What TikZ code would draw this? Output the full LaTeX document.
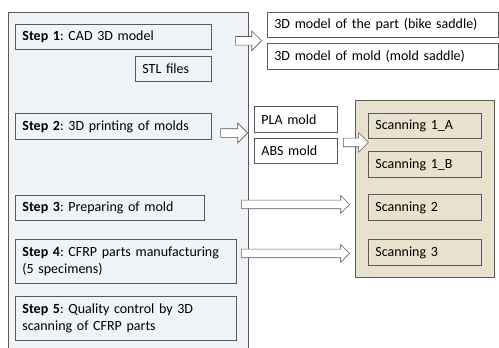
\documentclass[tikz,border=0pt]{standalone}
\usepackage{fontspec}
\setmainfont{Carlito}
\usetikzlibrary{positioning}
\usetikzlibrary{shapes.arrows}
\definecolor{paneblue}{RGB}{240,244,249}
\definecolor{tanfill}{RGB}{231,225,205}
\definecolor{edgegray}{RGB}{90,90,90}
\tikzset{
  box/.style={draw=edgegray, line width=0.8pt, inner xsep=7pt, inner ysep=0pt,
    align=left, anchor=north west, font=\fontsize{14}{17}\selectfont\frenchspacing},
  blockarrow/.style={single arrow, draw=edgegray, fill=white, line width=0.6pt,
    inner xsep=0pt, inner ysep=4pt, single arrow head extend=5.5pt,
    single arrow tip angle=90, anchor=tip}
}

\begin{document}
\begin{tikzpicture}[x=1pt,y=-1pt]
    \useasboundingbox (0,0) rectangle (499,348);

    % left panel with the steps
    \fill[paneblue] (8,12) rectangle (248,348);
    \draw[edgegray, line width=0.8pt] (8,348) -- (8,12) -- (248,12) -- (248,348);

    \node[box, text width=182pt, minimum height=25pt] (s1) at (15,24) {\textbf{Step 1}: CAD 3D model};
    \node[box, text width=62pt, minimum height=25pt] (stl) at (135,56) {STL files};
    \node[box, text width=182pt, minimum height=26pt] (s2) at (15,113) {\textbf{Step 2}: 3D printing of molds};
    \node[box, text width=175pt, minimum height=25pt] (s3) at (15,195) {\textbf{Step 3}: Preparing of mold};
    \node[box, text width=207pt, minimum height=44pt] (s4) at (15,239) {\textbf{Step 4}: CFRP parts manufacturing\\(5 specimens)};
    \node[box, text width=207pt, minimum height=44pt] (s5) at (15,296) {\textbf{Step 5}: Quality control by 3D\\scanning of CFRP parts};

    % models and molds
    \node[box, fill=white, text width=217pt, minimum height=25pt] (m1) at (267,12) {3D model of the part (bike saddle)};
    \node[box, fill=white, text width=217pt, minimum height=26pt] (m2) at (267,43) {3D model of mold (mold saddle)};
    \node[box, fill=white, text width=69pt, minimum height=26pt] (pla) at (254,106) {PLA mold};
    \node[box, fill=white, text width=69pt, minimum height=25pt] (abs) at (254,138) {ABS mold};

    % scanning panel
    \node[draw=edgegray, fill=tanfill, line width=0.8pt, anchor=north west,
      minimum width=139pt, minimum height=177pt, inner sep=0pt] (scan) at (355,100) {};
    \node[box, fill=tanfill, text width=99pt, minimum height=25pt] (c1a) at (368,113) {Scanning 1\_A};
    \node[box, fill=tanfill, text width=99pt, minimum height=26pt] (c1b) at (368,151) {Scanning 1\_B};
    \node[box, fill=tanfill, text width=99pt, minimum height=26pt] (c2) at (368,194) {Scanning 2};
    \node[box, fill=tanfill, text width=99pt, minimum height=26pt] (c3) at (368,239) {Scanning 3};

    % block arrows
    \node[blockarrow, minimum height=26pt] (a1) at ([xshift=-5pt,yshift=-3pt]m1.south west) {};
    \node[blockarrow, minimum height=27pt] (a2) at (248,133) {};
    \node[blockarrow, minimum height=25pt] (a3) at ([xshift=31pt,yshift=8.5pt]abs.east) {};
    \node[blockarrow, minimum height=108pt, single arrow head extend=4.5pt] (a4) at ([xshift=-18pt,yshift=3pt]c2.west) {};
    \node[blockarrow, minimum height=108pt, single arrow head extend=4.5pt] (a5) at ([xshift=-18pt,yshift=-1pt]c3.west) {};

\end{tikzpicture}
\end{document}
